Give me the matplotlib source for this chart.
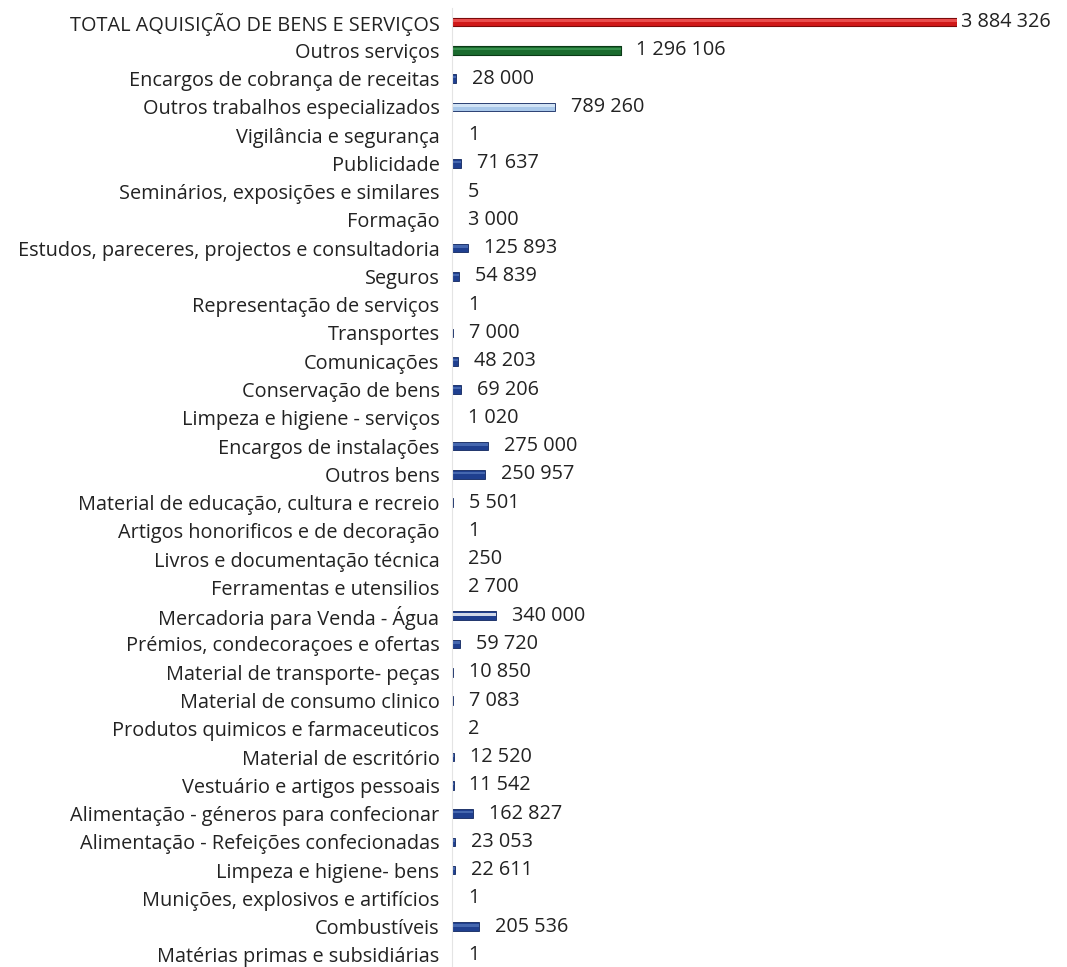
import numpy as np
import matplotlib
matplotlib.use("Agg")
import matplotlib.pyplot as plt

# Rubricas (de cima para baixo) e valores
categorias = [
    "TOTAL AQUISIÇÃO DE BENS E SERVIÇOS",
    "Outros serviços",
    "Encargos de cobrança de receitas",
    "Outros trabalhos especializados",
    "Vigilância e segurança",
    "Publicidade",
    "Seminários, exposições e similares",
    "Formação",
    "Estudos, pareceres, projectos e consultadoria",
    "Seguros",
    "Representação de serviços",
    "Transportes",
    "Comunicações",
    "Conservação de bens",
    "Limpeza e higiene - serviços",
    "Encargos de instalações",
    "Outros bens",
    "Material de educação, cultura e recreio",
    "Artigos honorificos e de decoração",
    "Livros e documentação técnica",
    "Ferramentas e utensilios",
    "Mercadoria para Venda - Água",
    "Prémios, condecoraçoes e ofertas",
    "Material de transporte- peças",
    "Material de consumo clinico",
    "Produtos quimicos e farmaceuticos",
    "Material de escritório",
    "Vestuário e artigos pessoais",
    "Alimentação - géneros para confecionar",
    "Alimentação - Refeições confecionadas",
    "Limpeza e higiene- bens",
    "Munições, explosivos e artifícios",
    "Combustíveis",
    "Matérias primas e subsidiárias",
]
valores = [
    3884326, 1296106, 28000, 789260, 1, 71637, 5, 3000, 125893, 54839,
    1, 7000, 48203, 69206, 1020, 275000, 250957, 5501, 1, 250,
    2700, 340000, 59720, 10850, 7083, 2, 12520, 11542, 162827, 23053,
    22611, 1, 205536, 1,
]

# cores: total a vermelho, outros serviços a verde, resto azul
cor_fill = ["#D01818", "#1B6B2E"] + ["#1F3F8F"] * (len(valores) - 2)
cor_luz = ["#F05A5A", "#3E9A55"] + ["#4F72B8"] * (len(valores) - 2)
cor_fill[3] = "#A9C8EA"
cor_luz[3] = "#DCEAF8"
cor_luz[21] = "#FFFFFF"

def fmt(v):
    return f"{v:,}".replace(",", " ")

plt.rcParams['font.family'] = ['Open Sans', 'DejaVu Sans']

fig = plt.figure(figsize=(10.67, 9.67), dpi=100)
n = len(valores)
ax = fig.add_axes([452/1067, 0, (957-452)/1067, 1 - 7.86/967])

y = np.arange(n)
ax.barh(y, valores, height=0.3, color=cor_fill, edgecolor="#10265E", linewidth=0.6)
ax.barh(y[[0]], valores[0], height=0.3, color=cor_fill[0], edgecolor="#7A0A0A", linewidth=0.8)
ax.barh(y[[1]], valores[1], height=0.3, color=cor_fill[1], edgecolor="#0B3A17", linewidth=0.8)
# realce para dar o ar de barra 3D
ax.barh(y - 0.05, valores, height=0.09, color=cor_luz, linewidth=0, alpha=0.8)

for i, v in enumerate(valores):
    dx = 3 if i == 0 else 11.5
    ax.annotate(fmt(v), (v, i), xytext=(dx, 0), textcoords="offset points",
                va="center", ha="left", fontsize=14.3, color="#222222",
                annotation_clip=False)

ax.set_xlim(0, valores[0])
ax.set_ylim(33 + 12/28.27, -0.5)
ax.set_yticks(y)
ax.set_yticklabels(categorias, fontsize=14.3, color="#222222")
ax.tick_params(axis="y", length=0, pad=9)
ax.set_xticks([])
for s in ["top", "right", "bottom"]:
    ax.spines[s].set_visible(False)
ax.spines["left"].set_color("#E4E4E4")

fig.savefig("out.png", dpi=100)
